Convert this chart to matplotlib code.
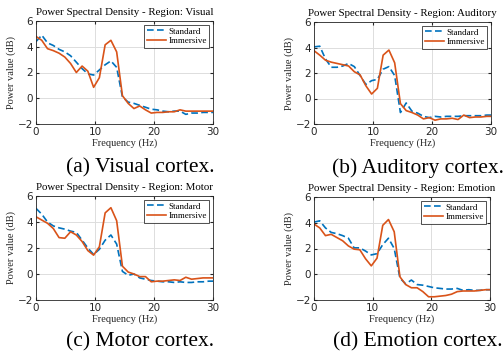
import numpy as np
import matplotlib
matplotlib.use("Agg")
import matplotlib.pyplot as plt

# frequency bins (250 Hz / 256-point FFT)
freq = np.arange(32) * 250 / 256

regions = ["Visual", "Auditory", "Motor", "Emotion"]
captions = ["(a) Visual cortex.", "(b) Auditory cortex.",
            "(c) Motor cortex.", "(d) Emotion cortex."]

std_visual = [4.4, 4.9, 4.3, 4.1, 3.8, 3.6, 3.3, 2.8, 2.3, 1.9, 1.8, 2.2, 2.6, 2.9, 2.4, 0.1,
              -0.3, -0.4, -0.55, -0.7, -0.85, -0.9, -1.0, -1.05, -1.0, -1.0, -1.25, -1.15,
              -1.15, -1.1, -1.1, -1.1]
imm_visual = [4.8, 4.5, 3.85, 3.7, 3.5, 3.2, 2.7, 2.0, 2.5, 2.1, 0.85, 1.6, 4.15, 4.5, 3.6, 0.2,
              -0.4, -0.8, -0.6, -0.9, -1.15, -1.1, -1.1, -1.05, -1.05, -0.9, -1.0, -1.0,
              -1.0, -1.0, -1.0, -1.0]

std_auditory = [4.05, 4.1, 3.1, 2.45, 2.45, 2.55, 2.75, 2.5, 1.8, 1.1, 1.4, 1.5, 2.3, 2.5, 1.8,
                -1.1, -0.35, -1.0, -1.15, -1.4, -1.5, -1.4, -1.45, -1.4, -1.4, -1.4, -1.35,
                -1.35, -1.35, -1.35, -1.3, -1.3]
imm_auditory = [3.75, 3.4, 3.0, 2.85, 2.75, 2.65, 2.55, 2.1, 1.85, 1.0, 0.35, 0.8, 3.4, 3.8, 2.8,
                -0.4, -0.95, -1.1, -1.3, -1.6, -1.5, -1.7, -1.6, -1.6, -1.55, -1.65, -1.3,
                -1.5, -1.45, -1.45, -1.4, -1.4]

std_motor = [5.05, 4.6, 4.0, 3.7, 3.55, 3.45, 3.3, 3.2, 2.6, 2.0, 1.5, 1.9, 2.6, 3.0, 2.3, 0.2,
             -0.1, 0.0, -0.3, -0.4, -0.5, -0.55, -0.6, -0.6, -0.65, -0.6, -0.65, -0.65,
             -0.6, -0.6, -0.55, -0.55]
imm_motor = [4.4, 4.15, 3.9, 3.5, 2.8, 2.75, 3.25, 3.0, 2.5, 1.8, 1.45, 2.1, 4.7, 5.1, 4.1, 0.6,
             0.15, 0.0, -0.2, -0.2, -0.6, -0.55, -0.55, -0.5, -0.45, -0.5, -0.25, -0.4,
             -0.35, -0.3, -0.3, -0.3]

std_emotion = [4.05, 4.15, 3.6, 3.25, 3.15, 3.0, 2.8, 2.05, 2.05, 1.8, 1.5, 1.6, 2.3, 2.8, 2.0,
               -0.3, -0.75, -0.45, -0.8, -0.85, -0.95, -1.05, -1.1, -1.15, -1.15, -1.1, -1.25,
               -1.2, -1.25, -1.25, -1.2, -1.2]
imm_emotion = [3.9, 3.6, 3.0, 3.1, 2.85, 2.6, 2.2, 1.95, 1.9, 1.2, 0.65, 1.25, 3.8, 4.25, 3.3,
               -0.2, -0.8, -1.05, -1.05, -1.35, -1.75, -1.75, -1.7, -1.65, -1.55, -1.35, -1.3,
               -1.3, -1.3, -1.25, -1.2, -1.2]

standard = [std_visual, std_auditory, std_motor, std_emotion]
immersive = [imm_visual, imm_auditory, imm_motor, imm_emotion]

W, H = 504, 358
serif = ["Liberation Serif", "DejaVu Serif"]
txt = "#262626"

fig = plt.figure(figsize=(W / 100, H / 100), dpi=100)

# axes boxes in pixels: left, top, right, bottom
boxes = [(36, 21, 213, 124), (314, 22, 491, 124),
         (36, 196, 213, 300), (314, 197, 490, 300)]
cap_pos = [(140, 168), (418, 168), (140, 342), (418, 342)]

for i in range(4):
    l, t, r, b = boxes[i]
    ax = fig.add_axes([l / W, 1 - b / H, (r - l) / W, (b - t) / H])
    ax.plot(freq, standard[i], color="#0072BD", lw=1.2, dashes=(4, 2), label="Standard")
    ax.plot(freq, immersive[i], "-", color="#D95319", lw=1.2, label="Immersive")
    ax.set_xlim(0, 30)
    ax.set_ylim(-2, 6)
    ax.set_xticks([0, 10, 20, 30])
    ax.set_yticks([-2, 0, 2, 4, 6])
    ax.grid(True, color="#dddddd", lw=0.7)
    ax.set_axisbelow(True)
    ax.tick_params(direction="in", length=2, labelsize=7.5, colors=txt, pad=2,
                   top=True, right=True)
    for sp in ax.spines.values():
        sp.set_color(txt)
        sp.set_linewidth(0.6)
    ax.set_title("Power Spectral Density - Region: " + regions[i],
                 fontsize=7.8, family=serif, color="black", pad=4)
    ax.set_xlabel("Frequency (Hz)", fontsize=7.5, family=serif, color=txt, labelpad=1)
    ax.set_ylabel("Power value (dB)", fontsize=7.5, family=serif, color=txt, labelpad=1)
    leg = ax.legend(loc="upper right", prop={"family": serif, "size": 6.5},
                    frameon=True, fancybox=False, handlelength=2.2, handletextpad=0.2,
                    borderpad=0.3, labelspacing=0.15, borderaxespad=0.4)
    leg.get_frame().set_edgecolor("black")
    leg.get_frame().set_linewidth(0.6)
    cx, cy = cap_pos[i]
    fig.text(cx / W, 1 - cy / H, captions[i], ha="center", va="center",
             fontsize=15.5, family=serif, color="black")

fig.savefig("out.png", dpi=100)
